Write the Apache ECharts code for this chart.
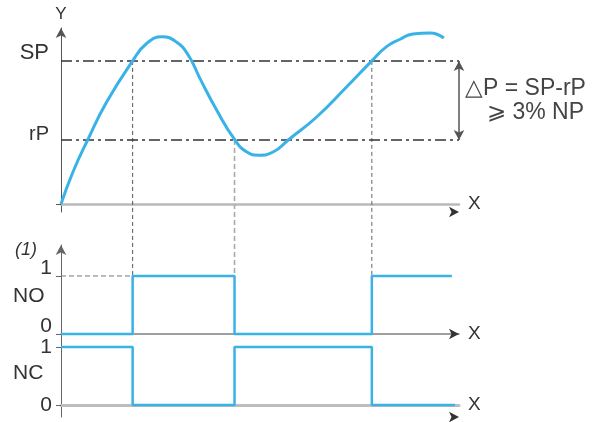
<!DOCTYPE html>
<html><head><meta charset="utf-8">
<script src="https://cdn.jsdelivr.net/npm/echarts@6/dist/echarts.min.js"></script>
<style>html,body{margin:0;padding:0;background:#fff}#c{width:600px;height:422px}</style>
</head><body><div id="c"></div>
<script>
// ---- data ----
const curveX = [0, 3.0, 6.7, 11.5, 18.0, 21.5, 25.4, 29.0, 32.0, 34.9, 39.1, 43.7, 46.6, 49.7, 53.4, 57.1, 64.3, 71.8, 78.1, 81.8, 85.2, 88.4, 92.7, 96.2];
const curveY = [0, 18.2, 36.4, 58.1, 81.3, 91.2, 95.0, 92.0, 84.5, 71.4, 53.4, 36.4, 29.7, 27.8, 29.7, 36.4, 49.6, 66.6, 81.3, 89.4, 93.6, 96.6, 97.2, 94.3];
const SP = 81.3, rP = 36.4;
const thresholdNames = ['SP', 'rP'];
const switchTimes = [18.0, 43.6, 78.1];
const switchLevels = [SP, rP, SP];
const noStates = [0, 1, 0, 1];
const ncStates = [1, 0, 1, 0];
const noEnd = 98.2, ncEnd = 99.0;
const stateTicks = [0, 1];
const guideBottom = -40.3;

const FONT = '"Liberation Sans", Arial, sans-serif';
const BLUE = '#38b2e7';

function steps(states, end) {
  const pts = []; let x0 = 0;
  states.forEach((s, i) => {
    const x1 = i < switchTimes.length ? switchTimes[i] : end;
    pts.push([x0, s], [x1, s]); x0 = x1;
  });
  return pts;
}

function xAxisCfg(i, color, width) {
  return {
    type: 'value', gridIndex: i, min: 0, max: 100, position: 'bottom',
    axisLine: { onZero: true, lineStyle: { color: color, width: width } },
    axisTick: { show: false }, axisLabel: { show: false }, splitLine: { show: false },
    name: 'X', nameGap: 9, nameTextStyle: { fontSize: 19, color: '#333', fontFamily: FONT }
  };
}
// arrow-only overlay axis (dark arrow head on a lighter axis line)
function xArrowCfg(i) {
  return {
    type: 'value', gridIndex: i, min: 0, max: 100, position: 'bottom',
    axisLine: { onZero: true, symbol: ['none', 'arrow'], symbolSize: [8, 10], symbolOffset: [0, 0], lineStyle: { color: '#333', width: 0 } },
    axisTick: { show: false }, axisLabel: { show: false }, splitLine: { show: false }
  };
}

const chart = echarts.init(document.getElementById('c'), null, { renderer: 'canvas' });
const guideStyles = [
  { color: '#555', width: 1, type: [4, 3] },
  { color: '#aaa', width: 1.6, type: [5, 3] },
  { color: '#666', width: 1, type: [4, 3] }
];
const guideSeries = switchTimes.map((t, i) => ({
  type: 'line', xAxisIndex: 0, yAxisIndex: 0, clip: false, symbol: 'none', silent: true,
  data: [[t, switchLevels[i]], [t, guideBottom]], lineStyle: guideStyles[i], z: 1
}));

chart.setOption({
  animation: false,
  grid: [
    { left: 61, top: 28, width: 398, height: 184 },
    { left: 61, top: 245, width: 398, height: 89 },
    { left: 61, top: 334, width: 398, height: 83 }
  ],
  xAxis: [xAxisCfg(0, '#b9b9b9', 2.5), xAxisCfg(1, '#808080', 1.5), xAxisCfg(2, '#bdbdbd', 3),
          xArrowCfg(0), xArrowCfg(1), xArrowCfg(2)],
  yAxis: [
    {
      type: 'value', gridIndex: 0, min: -4.5, max: 100,
      axisLine: { symbol: ['none', 'arrow'], symbolSize: [8, 10], symbolOffset: [0, 0], lineStyle: { color: '#555', width: 1 } },
      axisTick: { show: true, customValues: [0], length: 5, lineStyle: { color: '#555' } },
      axisLabel: {
        customValues: [rP, SP], margin: 12, verticalAlign: 'bottom',
        formatter: v => Math.abs(v - SP) < 1e-6 ? '{a|' + thresholdNames[0] + '}' : '{b|' + thresholdNames[1] + '}',
        rich: {
          a: { fontSize: 22, lineHeight: 16, color: '#333', fontFamily: FONT },
          b: { fontSize: 20, lineHeight: 12, color: '#333', fontFamily: FONT }
        }
      },
      splitLine: { show: false },
      name: 'Y', nameGap: 5, nameTextStyle: { fontSize: 17, color: '#333', fontFamily: FONT }
    },
    {
      type: 'value', gridIndex: 1, min: 0, max: 1.534,
      axisLine: { symbol: ['none', 'arrow'], symbolSize: [8, 10], symbolOffset: [0, 0], lineStyle: { color: '#666', width: 1 } },
      axisTick: { show: true, customValues: stateTicks, length: 5, lineStyle: { color: '#666' } },
      axisLabel: { customValues: stateTicks, margin: 9, verticalAlign: 'bottom', lineHeight: 15, fontSize: 21, color: '#333', fontFamily: FONT },
      splitLine: { show: false }
    },
    {
      type: 'value', gridIndex: 2, min: -0.207, max: 1.224,
      axisLine: { lineStyle: { color: '#666', width: 1 } },
      axisTick: { show: true, customValues: stateTicks, length: 5, lineStyle: { color: '#666' } },
      axisLabel: { customValues: stateTicks, margin: 9, verticalAlign: 'middle', fontSize: 21, color: '#333', fontFamily: FONT },
      splitLine: { show: false }
    }
  ],
  graphic: [
    { type: 'text', x: 15, y: 250, style: { text: '(1)', font: 'italic 18px ' + FONT, fill: '#333', verticalAlign: 'middle' } },
    { type: 'text', x: 13, y: 296, style: { text: 'NO', font: '21px ' + FONT, fill: '#333', verticalAlign: 'middle' } },
    { type: 'text', x: 13, y: 373, style: { text: 'NC', font: '21px ' + FONT, fill: '#333', verticalAlign: 'middle' } },
    { type: 'text', x: 465, y: 89, style: { text: '△P = SP-rP', font: '23px ' + FONT, fill: '#444', verticalAlign: 'middle' } },
    { type: 'text', x: 487, y: 113, style: { text: '⩾ 3% NP', font: '23px ' + FONT, fill: '#444', verticalAlign: 'middle' } }
  ],
  series: [
    ...guideSeries,
    {
      type: 'line', xAxisIndex: 0, yAxisIndex: 0, smooth: 0.5, showSymbol: false, silent: true, z: 5,
      data: curveX.map((x, i) => [x, curveY[i]]),
      lineStyle: { color: BLUE, width: 3 },
      markLine: {
        silent: true, symbol: 'none', label: { show: false },
        lineStyle: { type: [11, 4, 3, 4], color: '#333', width: 1.5 },
        data: [
          [{ coord: [0, SP] }, { coord: [100, SP] }],
          [{ coord: [0, rP] }, { coord: [100, rP] }],
          [{ coord: [100, SP], symbol: 'arrow', symbolSize: [8, 10], lineStyle: { type: 'solid', color: '#555', width: 1.5 } },
           { coord: [100, rP], symbol: 'arrow', symbolSize: [8, 10] }]
        ]
      }
    },
    {
      type: 'line', xAxisIndex: 1, yAxisIndex: 1, symbol: 'none', silent: true, z: 2,
      data: [[0, 1], [switchTimes[0], 1]], lineStyle: { color: '#777', width: 1, type: [5, 3] }
    },
    {
      type: 'line', xAxisIndex: 1, yAxisIndex: 1, symbol: 'none', silent: true, z: 5, clip: false,
      data: steps(noStates, noEnd), lineStyle: { color: BLUE, width: 2.5 }
    },
    {
      type: 'line', xAxisIndex: 2, yAxisIndex: 2, symbol: 'none', silent: true, z: 5, clip: false,
      data: steps(ncStates, ncEnd), lineStyle: { color: BLUE, width: 2.5 }
    }
  ]
});
</script></body></html>
